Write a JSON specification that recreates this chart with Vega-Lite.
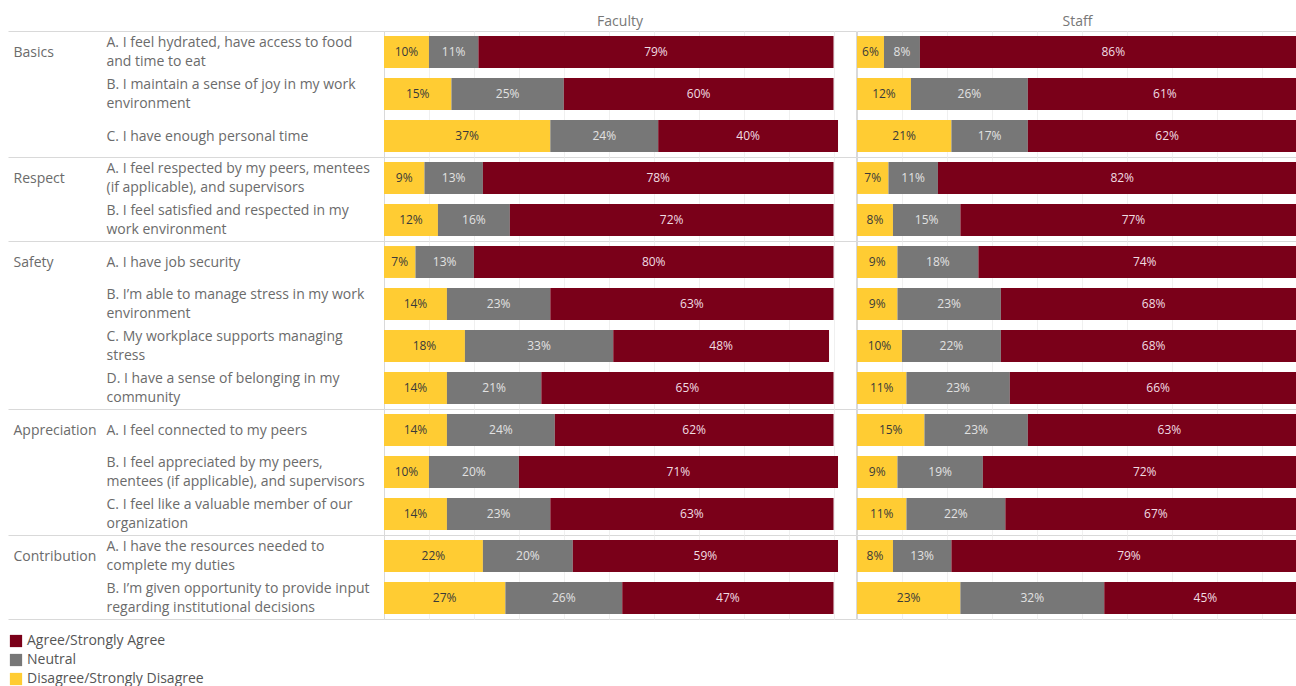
{
  "$schema": "https://vega.github.io/schema/vega-lite/v6.json",
  "padding": {"left": 7, "top": 15, "right": 0, "bottom": 0},
  "background": "white",
  "data": {"values": [
    {"aud": "Faculty", "g": "Basics", "q": "A. I feel hydrated, have access to food|and time to eat", "Disagree/Strongly Disagree": 0.10, "Neutral": 0.11, "Agree/Strongly Agree": 0.79},
    {"aud": "Faculty", "g": "Basics", "q": "B. I maintain a sense of joy in my work|environment", "Disagree/Strongly Disagree": 0.15, "Neutral": 0.25, "Agree/Strongly Agree": 0.60},
    {"aud": "Faculty", "g": "Basics", "q": "C. I have enough personal time", "Disagree/Strongly Disagree": 0.37, "Neutral": 0.24, "Agree/Strongly Agree": 0.40},
    {"aud": "Faculty", "g": "Respect", "q": "A. I feel respected by my peers, mentees|(if applicable), and supervisors", "Disagree/Strongly Disagree": 0.09, "Neutral": 0.13, "Agree/Strongly Agree": 0.78},
    {"aud": "Faculty", "g": "Respect", "q": "B. I feel satisfied and respected in my|work environment", "Disagree/Strongly Disagree": 0.12, "Neutral": 0.16, "Agree/Strongly Agree": 0.72},
    {"aud": "Faculty", "g": "Safety", "q": "A. I have job security", "Disagree/Strongly Disagree": 0.07, "Neutral": 0.13, "Agree/Strongly Agree": 0.80},
    {"aud": "Faculty", "g": "Safety", "q": "B. I’m able to manage stress in my work|environment", "Disagree/Strongly Disagree": 0.14, "Neutral": 0.23, "Agree/Strongly Agree": 0.63},
    {"aud": "Faculty", "g": "Safety", "q": "C. My workplace supports managing|stress", "Disagree/Strongly Disagree": 0.18, "Neutral": 0.33, "Agree/Strongly Agree": 0.48},
    {"aud": "Faculty", "g": "Safety", "q": "D. I have a sense of belonging in my|community", "Disagree/Strongly Disagree": 0.14, "Neutral": 0.21, "Agree/Strongly Agree": 0.65},
    {"aud": "Faculty", "g": "Appreciation", "q": "A. I feel connected to my peers", "Disagree/Strongly Disagree": 0.14, "Neutral": 0.24, "Agree/Strongly Agree": 0.62},
    {"aud": "Faculty", "g": "Appreciation", "q": "B. I feel appreciated by my peers,|mentees (if applicable), and supervisors", "Disagree/Strongly Disagree": 0.10, "Neutral": 0.20, "Agree/Strongly Agree": 0.71},
    {"aud": "Faculty", "g": "Appreciation", "q": "C. I feel like a valuable member of our|organization", "Disagree/Strongly Disagree": 0.14, "Neutral": 0.23, "Agree/Strongly Agree": 0.63},
    {"aud": "Faculty", "g": "Contribution", "q": "A. I have the resources needed to|complete my duties", "Disagree/Strongly Disagree": 0.22, "Neutral": 0.20, "Agree/Strongly Agree": 0.59},
    {"aud": "Faculty", "g": "Contribution", "q": "B. I’m given opportunity to provide input|regarding institutional decisions", "Disagree/Strongly Disagree": 0.27, "Neutral": 0.26, "Agree/Strongly Agree": 0.47},
    {"aud": "Staff", "g": "Basics", "q": "A. I feel hydrated, have access to food|and time to eat", "Disagree/Strongly Disagree": 0.06, "Neutral": 0.08, "Agree/Strongly Agree": 0.86},
    {"aud": "Staff", "g": "Basics", "q": "B. I maintain a sense of joy in my work|environment", "Disagree/Strongly Disagree": 0.12, "Neutral": 0.26, "Agree/Strongly Agree": 0.61},
    {"aud": "Staff", "g": "Basics", "q": "C. I have enough personal time", "Disagree/Strongly Disagree": 0.21, "Neutral": 0.17, "Agree/Strongly Agree": 0.62},
    {"aud": "Staff", "g": "Respect", "q": "A. I feel respected by my peers, mentees|(if applicable), and supervisors", "Disagree/Strongly Disagree": 0.07, "Neutral": 0.11, "Agree/Strongly Agree": 0.82},
    {"aud": "Staff", "g": "Respect", "q": "B. I feel satisfied and respected in my|work environment", "Disagree/Strongly Disagree": 0.08, "Neutral": 0.15, "Agree/Strongly Agree": 0.77},
    {"aud": "Staff", "g": "Safety", "q": "A. I have job security", "Disagree/Strongly Disagree": 0.09, "Neutral": 0.18, "Agree/Strongly Agree": 0.74},
    {"aud": "Staff", "g": "Safety", "q": "B. I’m able to manage stress in my work|environment", "Disagree/Strongly Disagree": 0.09, "Neutral": 0.23, "Agree/Strongly Agree": 0.68},
    {"aud": "Staff", "g": "Safety", "q": "C. My workplace supports managing|stress", "Disagree/Strongly Disagree": 0.10, "Neutral": 0.22, "Agree/Strongly Agree": 0.68},
    {"aud": "Staff", "g": "Safety", "q": "D. I have a sense of belonging in my|community", "Disagree/Strongly Disagree": 0.11, "Neutral": 0.23, "Agree/Strongly Agree": 0.66},
    {"aud": "Staff", "g": "Appreciation", "q": "A. I feel connected to my peers", "Disagree/Strongly Disagree": 0.15, "Neutral": 0.23, "Agree/Strongly Agree": 0.63},
    {"aud": "Staff", "g": "Appreciation", "q": "B. I feel appreciated by my peers,|mentees (if applicable), and supervisors", "Disagree/Strongly Disagree": 0.09, "Neutral": 0.19, "Agree/Strongly Agree": 0.72},
    {"aud": "Staff", "g": "Appreciation", "q": "C. I feel like a valuable member of our|organization", "Disagree/Strongly Disagree": 0.11, "Neutral": 0.22, "Agree/Strongly Agree": 0.67},
    {"aud": "Staff", "g": "Contribution", "q": "A. I have the resources needed to|complete my duties", "Disagree/Strongly Disagree": 0.08, "Neutral": 0.13, "Agree/Strongly Agree": 0.79},
    {"aud": "Staff", "g": "Contribution", "q": "B. I’m given opportunity to provide input|regarding institutional decisions", "Disagree/Strongly Disagree": 0.23, "Neutral": 0.32, "Agree/Strongly Agree": 0.45}
  ]},
  "transform": [
    {"fold": ["Disagree/Strongly Disagree", "Neutral", "Agree/Strongly Agree"], "as": ["response", "pct"]},
    {"calculate": "datum.g + '|' + datum.q", "as": "key"},
    {"calculate": "indexof(['Disagree/Strongly Disagree','Neutral','Agree/Strongly Agree'], datum.response)", "as": "ord"}
  ],
  "spacing": -2,
  "hconcat": [
    {
      "transform": [{"filter": "datum.aud == 'Faculty'"}],
      "facet": {
        "row": {"field": "g", "type": "nominal", "sort": ["Basics", "Respect", "Safety", "Appreciation", "Contribution"], "header": {"title": null, "labels": false}},
        "column": {"field": "aud", "type": "nominal", "header": {"title": null, "labelFontSize": 14, "labelColor": "#777777", "labelPadding": 2}}
      },
      "spacing": {"row": 0, "column": 0},
      "align": "each",
      "bounds": "flush",
      "resolve": {"scale": {"y": "independent"}},
      "spec": {
        "width": 472,
        "height": {"step": 42},
        "layer": [
          {
            "mark": {"type": "bar"},
            "encoding": {
              "y": {"field": "key", "type": "nominal", "sort": null,
                "scale": {"paddingInner": 0.24, "paddingOuter": 0.12},
                "axis": {"title": null, "domain": false, "grid": false,
                  "ticks": true, "bandPosition": 1, "tickExtra": true, "tickOffset": 5, "tickSize": 376, "tickColor": "#d9d9d9", "tickWidth": 1,
                  "tickOpacity": {"condition": {"test": "!datum.extra && datum.value && indexof(datum.value, 'Contribution|B') == 0", "value": 1}, "value": 0},
                  "labelAlign": "left", "labelPadding": -98, "labelLimit": 400, "labelFontSize": 14, "labelColor": "#6b6b6b", "labelLineHeight": 19,
                  "labelOffset": {"condition": {"test": "datum.value && length(split(datum.value, '|')) > 2", "value": -14.5}, "value": -5},
                  "labelExpr": "datum.label ? slice(split(datum.label, '|'), 1) : ''"}},
              "x": {"field": "pct", "type": "quantitative", "stack": "zero",
                "scale": {"domain": [0, 1.05], "nice": false},
                "axis": {"title": null, "labels": false, "ticks": false, "domain": false, "grid": true, "gridColor": "#f0f0f0", "values": [0.1, 0.2, 0.3, 0.4, 0.5, 0.6, 0.7, 0.8, 0.9, 1.0]}},
              "color": {"field": "response", "type": "nominal",
                "scale": {"domain": ["Agree/Strongly Agree", "Neutral", "Disagree/Strongly Disagree"], "range": ["#7a0019", "#777777", "#ffcc33"]},
                "legend": {"title": null, "orient": "none", "legendX": -375, "legendY": 603, "direction": "vertical", "symbolType": "square", "symbolSize": 150, "symbolStrokeWidth": 0, "labelFontSize": 14, "labelColor": "#555555", "labelLimit": 400, "rowPadding": 5, "labelOffset": 4, "padding": 0}},
              "order": {"field": "ord", "type": "quantitative"}
            }
          },
          {
            "mark": {"type": "text", "fontSize": 12},
            "encoding": {
              "y": {"field": "key", "type": "nominal", "sort": null,
                "axis": {"title": null, "orient": "left", "domain": false, "grid": false,
                  "ticks": true, "bandPosition": 1, "tickExtra": true, "tickOffset": -5, "tickSize": 376, "tickColor": "#d9d9d9", "tickWidth": 1,
                  "tickOpacity": {"condition": {"test": "datum.extra", "value": 1}, "value": 0},
                  "labelAlign": "left", "labelPadding": -5, "labelOffset": 5, "labelLimit": 200, "labelFontSize": 14, "labelColor": "#6b6b6b",
                  "labelExpr": "datum.label && indexof(datum.label, '|A. ') > 0 ? split(datum.label, '|')[0] : ''"}},
              "x": {"field": "pct", "type": "quantitative", "stack": "zero", "bandPosition": 0.5},
              "detail": {"field": "response"},
              "order": {"field": "ord", "type": "quantitative"},
              "text": {"field": "pct", "type": "quantitative", "format": ".0%"},
              "color": {"condition": [
                {"test": "datum.response == 'Neutral'", "value": "#e2e2e2"},
                {"test": "datum.response == 'Agree/Strongly Agree'", "value": "#f0dde2"}
              ], "value": "#3a3a3a"}
            }
          }
        ],
        "resolve": {"axis": {"y": "independent"}}
      }
    },
    {
      "transform": [{"filter": "datum.aud == 'Staff'"}],
      "facet": {
        "row": {"field": "g", "type": "nominal", "sort": ["Basics", "Respect", "Safety", "Appreciation", "Contribution"], "header": {"title": null, "labels": false}},
        "column": {"field": "aud", "type": "nominal", "header": {"title": null, "labelFontSize": 14, "labelColor": "#777777", "labelPadding": 2}}
      },
      "spacing": {"row": 0, "column": 0},
      "align": "each",
      "bounds": "flush",
      "resolve": {"scale": {"y": "independent"}},
      "spec": {
        "width": 441,
        "height": {"step": 42},
        "layer": [
          {
            "mark": {"type": "bar", "clip": true},
            "encoding": {
              "y": {"field": "key", "type": "nominal", "sort": null,
                "scale": {"paddingInner": 0.24, "paddingOuter": 0.12}, "axis": null},
              "x": {"field": "pct", "type": "quantitative", "stack": "zero",
                "scale": {"domain": [0, 0.981], "nice": false},
                "axis": {"title": null, "labels": false, "ticks": false, "domain": false, "grid": true, "gridColor": "#f0f0f0", "values": [0.1, 0.2, 0.3, 0.4, 0.5, 0.6, 0.7, 0.8, 0.9]}},
              "color": {"field": "response", "type": "nominal",
                "scale": {"domain": ["Agree/Strongly Agree", "Neutral", "Disagree/Strongly Disagree"], "range": ["#7a0019", "#777777", "#ffcc33"]},
                "legend": {"title": null, "orient": "none", "legendX": -375, "legendY": 603, "direction": "vertical", "symbolType": "square", "symbolSize": 150, "symbolStrokeWidth": 0, "labelFontSize": 14, "labelColor": "#555555", "labelLimit": 400, "rowPadding": 5, "labelOffset": 4, "padding": 0}},
              "order": {"field": "ord", "type": "quantitative"}
            }
          },
          {
            "mark": {"type": "text", "fontSize": 12},
            "encoding": {
              "y": {"field": "key", "type": "nominal", "sort": null, "axis": null},
              "x": {"field": "pct", "type": "quantitative", "stack": "zero", "bandPosition": 0.5},
              "detail": {"field": "response"},
              "order": {"field": "ord", "type": "quantitative"},
              "text": {"field": "pct", "type": "quantitative", "format": ".0%"},
              "color": {"condition": [
                {"test": "datum.response == 'Neutral'", "value": "#e2e2e2"},
                {"test": "datum.response == 'Agree/Strongly Agree'", "value": "#f0dde2"}
              ], "value": "#3a3a3a"}
            }
          }
        ]
      }
    }
  ],
  "config": {
    "font": "Open Sans",
    "view": {"stroke": "#d9d9d9", "strokeWidth": 1},
    "axis": {"labelFont": "Open Sans"},
    "header": {"labelFont": "Open Sans"},
    "legend": {"labelFont": "Open Sans"},
    "text": {"font": "Open Sans"}
  }
}
